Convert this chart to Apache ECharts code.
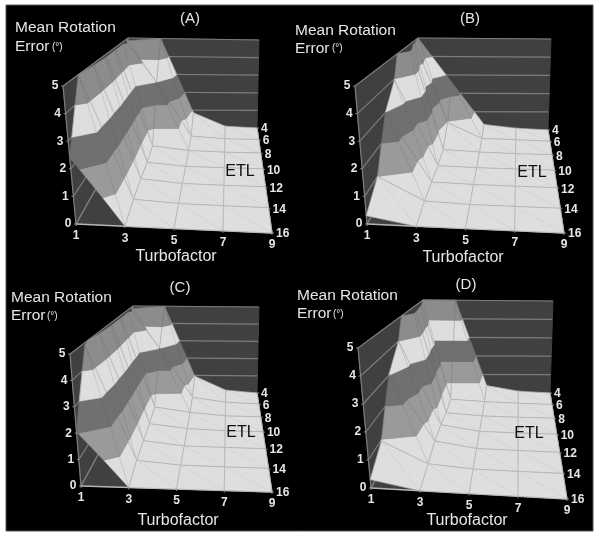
<!DOCTYPE html>
<html><head><meta charset="utf-8"><style>html,body{margin:0;background:#fff}#c{width:600px;height:538px;filter:blur(0.35px)}</style>
<script src="https://cdn.jsdelivr.net/npm/echarts@6/dist/echarts.min.js"></script></head><body><div id="c"></div>
<script>
const turbofactors=[1,3,5,7,9];
const etlLevels=[4,6,8,10,12,14,16];
const errorTicks=[0,1,2,3,4,5];
const panelNames=['(A)','(B)','(C)','(D)'];
const errorA=[[4.85,5.0,0.85,0.1,0],[5.5,3.0,0.18,0.05,0.03],[5.5,0.3,0.1,0.05,0.03],[5.5,0.2,0.05,0.03,0.02],[5.3,0.2,0.05,0.03,0.02],[5.0,0.15,0.05,0.03,0.02],[2.4,0,0,0,0]];
const errorB=[[5.0,2.6,0.3,0.1,0],[5.5,0.95,0.15,0.1,0.03],[6.5,0.2,0.1,0.05,0.03],[3.95,0.1,0.05,0.03,0.02],[3.0,0.1,0.05,0.03,0.02],[1.0,0.1,0.03,0.02,0.02],[0.3,0,0,0,0]];
const errorC=[[4.85,5.0,0.95,0.15,0],[5.5,3.0,0.35,0.1,0.03],[5.5,0.45,0.2,0.05,0.03],[5.5,0.3,0.1,0.03,0.02],[5.3,0.25,0.05,0.03,0.02],[4.9,0.2,0.05,0.03,0.02],[2.05,0,0,0,0]];
const errorD=[[5.0,5.0,0.4,0.1,0],[6.0,0.25,0.15,0.08,0.03],[6.5,0.2,0.08,0.05,0.03],[4.0,0.3,0.05,0.03,0.02],[3.05,0.3,0.05,0.03,0.02],[0.95,0.15,0.03,0.02,0.02],[0.3,0,0,0,0]];
const panelValues=[errorA,errorB,errorC,errorD];

// perspective frame of each panel: floor and z=5 corners, front-left, front-right, back-left, back-right
const frames=[
 {fl0:[76,224],fl5:[63,86],fr0:[272,233],fr5:[285,95],bl0:[130,128],bl5:[128,38],br0:[257,128],br5:[259,40],
  title:[190,19],yTitle:[15,28],yTitle2:[15,47],deg:[52,47],tfTitle:[176,257],etl:[240,172]},
 {fl0:[367,224],fl5:[355,86],fr0:[564,233],fr5:[577,95],bl0:[420,130],bl5:[418,38],br0:[548,130],br5:[551,39],
  title:[470,19],yTitle:[295,31],yTitle2:[295,49],deg:[332,48],tfTitle:[463,258],etl:[532,173]},
 {fl0:[81,486],fl5:[70,354],fr0:[272,492],fr5:[285,360],bl0:[132,392],bl5:[133,306],br0:[257,393],br5:[259,307],
  title:[180,288],yTitle:[11,298],yTitle2:[11,316],deg:[47,316],tfTitle:[178,521],etl:[241,433]},
 {fl0:[371,488],fl5:[358,348],fr0:[567,499],fr5:[580,360],bl0:[423,393],bl5:[423,300],br0:[550,393],br5:[553,301],
  title:[466,285],yTitle:[297,296],yTitle2:[297,314],deg:[333,314],tfTitle:[467,521],etl:[529,434]}
];
const bands=[[0,1,'#dedede'],[1,2,'#9a9a9a'],[2,3,'#707070'],[3,4,'#dedede'],[4,5,'#8c8c8c']];
const ink='#e6e6e6',wallFill='#404040',wallLine='#7c7c7c',meshLine='rgba(110,110,110,0.26)',foldLine='rgba(90,90,90,0.12)';

function project(f,u,t,h){
 const lerp=(a,b,k)=>[a[0]+(b[0]-a[0])*k,a[1]+(b[1]-a[1])*k];
 const front=lerp(lerp(f.fl0,f.fr0,u),lerp(f.fl5,f.fr5,u),h);
 const back=lerp(lerp(f.bl0,f.br0,u),lerp(f.bl5,f.br5,u),h);
 const w=(f.fr0[0]-f.fl0[0])/(f.br0[0]-f.bl0[0]);
 const d=(1-t)+t*w;
 return [((1-t)*front[0]+t*w*back[0])/d,((1-t)*front[1]+t*w*back[1])/d];
}
const uOf=tf=>(tf-1)/8, tOf=etl=>(16-etl)/12, hOf=z=>z/5;
function clip(poly,level,keepAbove){
 const out=[];
 for(let i=0;i<poly.length;i++){
  const a=poly[i],b=poly[(i+1)%poly.length];
  const ai=keepAbove?a[2]>=level:a[2]<=level, bi=keepAbove?b[2]>=level:b[2]<=level;
  if(ai)out.push(a);
  if(ai!==bi){const k=(level-a[2])/(b[2]-a[2]);out.push([a[0]+(b[0]-a[0])*k,a[1]+(b[1]-a[1])*k,level]);}
 }
 return out;
}
function toPx(api,f,tf,etl,z){return api.coord(project(f,uOf(tf),tOf(etl),hOf(z)));}

function wallRender(pi){return function(params,api){
 const f=frames[pi],children=[];
 const P=(tf,etl,z)=>toPx(api,f,tf,etl,z);
 const poly=pts=>children.push({type:'polygon',shape:{points:pts},style:{fill:wallFill,stroke:wallFill}});
 const line=(a,b,c,wd)=>children.push({type:'line',shape:{x1:a[0],y1:a[1],x2:b[0],y2:b[1]},style:{stroke:c||wallLine,lineWidth:wd||1.2}});
 poly([P(1,16,0),P(1,4,0),P(1,4,5),P(1,16,5)]);
 poly([P(1,4,0),P(9,4,0),P(9,4,5),P(1,4,5)]);
 poly([P(1,16,0),P(9,16,0),P(9,4,0),P(1,4,0)]);
 errorTicks.forEach(z=>{line(P(1,16,z),P(1,4,z));line(P(1,4,z),P(9,4,z));});
 line(P(1,16,0),P(1,16,5));line(P(1,4,0),P(1,4,5));
 turbofactors.forEach(tf=>line(P(tf,16,0),P(tf,4,0)));
 line(P(1,16,0),P(9,16,0),'#b4b4b4',1.5);
 line(P(9,16,0),P(9,4,0),'#999',1.2);
 return {type:'group',children};
};}

function surfaceRender(pi){return function(params,api){
 const f=frames[pi],m=panelValues[pi],children=[];
 const c=api.value(3),r=api.value(4);
 const V=(ci,ri)=>[turbofactors[ci],etlLevels[ri],m[ri][ci]];
 const backL=V(c,r),backR=V(c+1,r),frontL=V(c,r+1),frontR=V(c+1,r+1);
 [[backL,backR,frontR],[backL,frontR,frontL]].forEach(tri=>{
  bands.forEach(b=>{
   let p=clip(tri,b[0],true); if(p.length<3)return;
   p=clip(p,b[1],false); if(p.length<3)return;
   children.push({type:'polygon',shape:{points:p.map(q=>toPx(api,f,q[0],q[1],q[2]))},style:{fill:b[2],stroke:b[2],lineWidth:0.6}});
  });
 });
 const edge=(a,b,col)=>{
  const s=clip([a,b],5,false); if(s.length<2)return;
  const A=toPx(api,f,s[0][0],s[0][1],s[0][2]),B=toPx(api,f,s[1][0],s[1][1],s[1][2]);
  children.push({type:'line',shape:{x1:A[0],y1:A[1],x2:B[0],y2:B[1]},style:{stroke:col,lineWidth:1}});
 };
 edge(backL,backR,meshLine);edge(frontL,frontR,meshLine);edge(backL,frontL,meshLine);edge(backR,frontR,meshLine);
 if(Math.abs(backL[2]-frontR[2])>1)edge(backL,frontR,foldLine);
 return {type:'group',children};
};}

function tickRender(pi){return function(params,api){
 const f=frames[pi],kind=api.value(3),val=api.value(4);
 let a,b,dx=0,dy=0,align='center';
 if(kind===0){a=toPx(api,f,1,16,val);b=[a[0]-2,a[1]];dx=-6;}
 if(kind===1){a=toPx(api,f,val,16,0);b=[a[0],a[1]+2];dy=10;}
 if(kind===2){a=toPx(api,f,9,val,0);b=[a[0]+2,a[1]];dx=2;align='left';}
 return {type:'group',children:[
  {type:'line',shape:{x1:a[0],y1:a[1],x2:b[0],y2:b[1]},style:{stroke:'#888',lineWidth:1}},
  {type:'text',style:{x:b[0]+dx,y:b[1]+dy+(kind===2?1:0),text:String(val),fill:ink,font:'bold 12px "Liberation Sans"',align:align,verticalAlign:'middle'}}
 ]};
};}

const series=[];
frames.forEach((f,pi)=>{
 series.push({type:'custom',coordinateSystem:'cartesian2d',silent:true,clip:false,z:2,renderItem:wallRender(pi),data:[[1,4,0,0,0]],encode:{x:0,y:1}});
 const cells=[];
 for(let r=0;r<etlLevels.length-1;r++)for(let c=0;c<turbofactors.length-1;c++)
  cells.push([turbofactors[c],etlLevels[r],panelValues[pi][r][c],c,r]);
 series.push({type:'custom',coordinateSystem:'cartesian2d',silent:true,clip:false,z:3,renderItem:surfaceRender(pi),data:cells,encode:{x:0,y:1}});
 const ticks=[];
 errorTicks.forEach(v=>ticks.push([1,16,v,0,v]));
 turbofactors.forEach(v=>ticks.push([v,16,0,1,v]));
 etlLevels.forEach(v=>ticks.push([9,v,0,2,v]));
 series.push({type:'custom',coordinateSystem:'cartesian2d',silent:true,clip:false,z:4,renderItem:tickRender(pi),data:ticks,encode:{x:0,y:1}});
});

const graphic=[{type:'rect',z:-10,shape:{x:6,y:5,width:587,height:526},style:{fill:'#000',stroke:'#555',lineWidth:1}}];
const txt=(x,y,s,font,fill,align)=>graphic.push({type:'text',z:50,style:{x,y,text:s,font,fill:fill||ink,align:align||'left',verticalAlign:'middle'}});
frames.forEach((f,i)=>{
 txt(f.title[0],f.title[1],panelNames[i],'15px "Liberation Sans"',null,'center');
 txt(f.yTitle[0],f.yTitle[1],'Mean Rotation','15.5px "Liberation Sans"');
 txt(f.yTitle2[0],f.yTitle2[1],'Error','15.5px "Liberation Sans"');
 txt(f.deg[0],f.deg[1],'(°)','10px "Liberation Sans"');
 txt(f.tfTitle[0],f.tfTitle[1],'Turbofactor','16px "Liberation Sans"',null,'center');
 txt(f.etl[0],f.etl[1],'ETL','16px "Liberation Sans"','#111','center');
});

const chart=echarts.init(document.getElementById('c'),null,{renderer:'canvas'});
chart.setOption({animation:false,backgroundColor:'#fff',
 grid:{left:0,top:0,right:0,bottom:0},
 xAxis:{type:'value',min:0,max:600,show:false},
 yAxis:{type:'value',min:0,max:538,inverse:true,show:false},
 graphic:{elements:graphic},series});
</script></body></html>
